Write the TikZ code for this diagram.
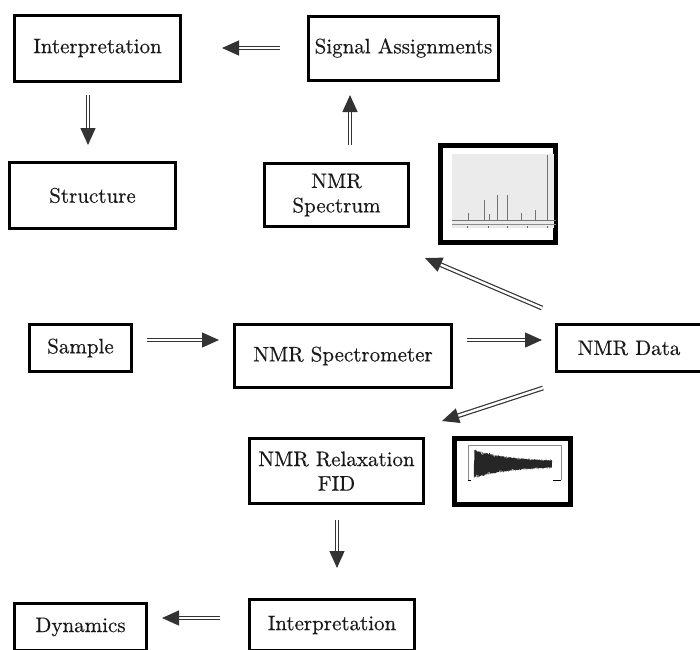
\documentclass[tikz,border=0pt]{standalone}
\usepackage{fontspec}
\setmainfont{lmroman10-regular.otf}[FakeBold=0.45]
\usetikzlibrary{arrows.meta}
\begin{document}
\begin{tikzpicture}[x=1pt,y=-1pt,
  box/.style={draw=black, line width=3pt, outer sep=0pt, inner sep=0pt, text=black!90, align=center, font=\fontsize{21}{24.5}\selectfont},
  imgbox/.style={draw=black, line width=5pt, outer sep=0pt, inner sep=0pt},
  dbl/.style={draw=black!80, line width=1.2pt, double=white, double distance=2.4pt, -{Triangle[length=17pt,width=15pt]}}]
\useasboundingbox (0,0) rectangle (700,649);
\clip (0,0) rectangle (700,649);
% nodes
\node[box, minimum width=166, minimum height=66] (int1) at (97.5,48) {Interpretation};
\node[box, minimum width=190, minimum height=64] (sa) at (403.5,48) {Signal Assignments};
\node[box, minimum width=166, minimum height=66] (struct) at (92.5,195.5) {Structure};
\node[box, minimum width=144, minimum height=63] (spec) at (336.5,195) {NMR\\Spectrum};
\node[imgbox, minimum width=115, minimum height=97] (specimg) at (498,194) {};
\node[box, minimum width=102, minimum height=47] (sample) at (80.5,348) {Sample};
\node[box, minimum width=217, minimum height=63] (spectro) at (343,356) {NMR Spectrometer};
\node[box, minimum width=145, minimum height=47] (data) at (629,348) {NMR Data};
\node[box, minimum width=174, minimum height=65] (relax) at (336.5,471) {NMR Relaxation\\FID};
\node[imgbox, minimum width=116, minimum height=66] (fidimg) at (512.5,471.5) {};
\node[box, minimum width=165, minimum height=51] (interp2) at (332,625) {Interpretation};
\node[box, minimum width=132, minimum height=47] (dyn) at (80.5,627) {Dynamics};
% spectrum picture
\fill[black!8] (452,154) rectangle (554,228);
\draw[black!55, line width=0.5pt] (452,220) -- (556,220);
\draw[black!45, line width=0.4pt] (452,224) -- (556,224);
\foreach \px in {467,488,507,527,547} \draw[black!60, line width=0.6pt] (\px,226) -- (\px,228);
\foreach \px/\top in {468/213, 484/200, 489/214, 497/195, 507/195, 521/213, 535/210, 547/155}
  \draw[black!55, line width=0.5pt] (\px,220) -- (\px,\top);
% FID picture
\draw[black!45, line width=0.8pt] (468,480) -- (468,445) -- (561,445) -- (561,480);
\draw[black, line width=0.9pt] (467.6,480) -- (471,480);
\draw[black, line width=0.9pt] (553,480) -- (561.4,480);
\draw[black!85, line width=0.35pt] plot[domain=0:78, samples=700] ({474+\x}, {464 + (2+12.5*exp(-\x/38))*sin(470*mod(\x,0.76596))});
% connectors
\draw[dbl] ([shift={(-28.5,0)}]sa.west) -- ([shift={(41.5,0)}]int1.east);
\draw[dbl] ([shift={(-9.5,14)}]int1.south) -- ([shift={(-4.5,-17.5)}]struct.north);
\draw[dbl] ([shift={(13.5,-18.5)}]spec.north) -- ([shift={(-53.5,15)}]sa.south);
\draw[dbl] ([shift={(15.5,-8)}]sample.east) -- ([shift={(-15.5,-16)}]spectro.west);
\draw[dbl] ([shift={(15.5,-16)}]spectro.east) -- ([shift={(-14.5,-8)}]data.west);
\draw[dbl] ([shift={(-14.5,-16.5)}]data.north west) -- ([shift={(-15.5,15.5)}]specimg.south west);
\draw[dbl] ([shift={(-13.5,16.5)}]data.south west) -- ([shift={(18.5,-17.5)}]relax.north east);
\draw[dbl] ([shift={(0.5,16.5)}]relax.south) -- ([shift={(5,-31.5)}]interp2.north);
\draw[dbl] ([shift={(-29.5,-7)}]interp2.west) -- ([shift={(15.5,-9)}]dyn.east);
\end{tikzpicture}
\end{document}
